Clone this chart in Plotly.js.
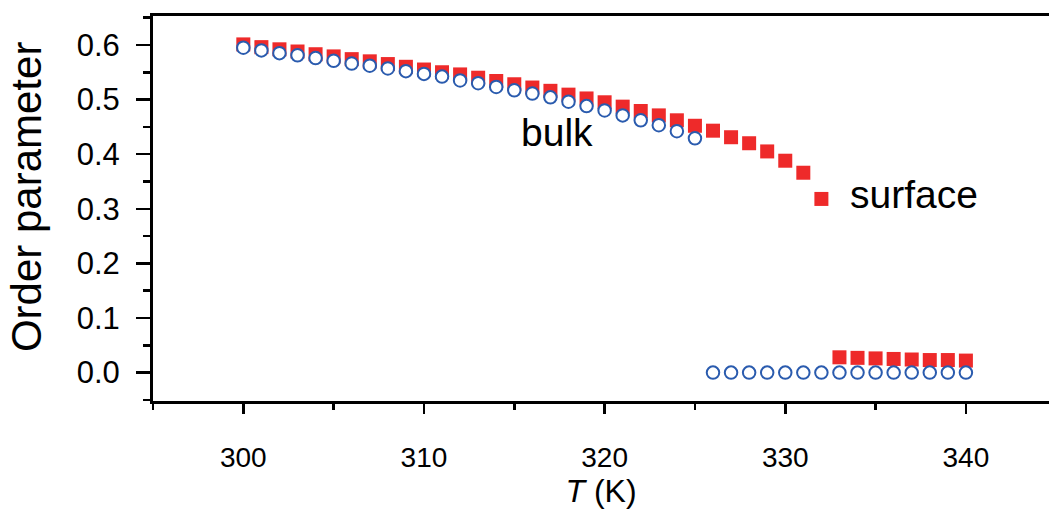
<!DOCTYPE html>
<html>
<head>
<meta charset="utf-8">
<script src="https://cdn.plot.ly/plotly-3.0.1.min.js"></script>
<style>html,body{margin:0;padding:0;background:#fff;}#chart{width:1049px;height:509px;}</style>
</head>
<body>
<div id="chart"></div>
<script>
// Temperature (K)
const temperature = [300,301,302,303,304,305,306,307,308,309,310,311,312,313,314,315,316,317,318,319,320,
  321,322,323,324,325,326,327,328,329,330,331,332,333,334,335,336,337,338,339,340];
// Surface order parameter (filled red squares)
const surfaceOrder = [0.601,0.596,0.592,0.588,0.583,0.579,0.574,0.570,0.565,0.560,0.555,0.550,0.546,0.540,
  0.534,0.528,0.522,0.516,0.509,0.502,0.495,0.487,0.479,0.471,0.462,0.452,0.443,0.431,0.420,0.405,0.388,
  0.366,0.318,0.028,0.027,0.026,0.025,0.024,0.023,0.023,0.022];
// Bulk order parameter (open blue circles)
const bulkOrder = [0.595,0.590,0.585,0.581,0.576,0.571,0.566,0.562,0.557,0.552,0.547,0.542,0.535,0.530,
  0.523,0.517,0.511,0.504,0.496,0.488,0.480,0.471,0.462,0.453,0.442,0.429,0,0,0,0,0,0,0,0,0,0,0,0,0,0,0];
const xTickValues = [300,310,320,330,340];
const yTickValues = [0.0,0.1,0.2,0.3,0.4,0.5,0.6];

const font = 'Liberation Sans, Arial, Helvetica, sans-serif';

const traces = [
  {x: temperature, y: surfaceOrder, type: 'scatter', mode: 'markers', name: 'surface',
   marker: {symbol: 'square', size: 14, color: '#EE2A2A', line: {width: 0}}},
  {x: temperature, y: bulkOrder, type: 'scatter', mode: 'markers', name: 'bulk',
   marker: {symbol: 'circle', size: 12.5, color: '#ffffff', line: {width: 2, color: '#2A5BAE'}}}
];

const layout = {
  width: 1049, height: 509,
  margin: {l: 153, r: 0, t: 16, b: 108},
  paper_bgcolor: '#fff', plot_bgcolor: '#fff',
  showlegend: false,
  font: {family: font, color: '#000', size: 30},
  xaxis: {
    range: [295, 344.6], tickvals: xTickValues, ticktext: xTickValues.map(String),
    ticks: 'outside', ticklen: 10, tickwidth: 2.5, tickcolor: '#000',
    minor: {dtick: 5, tick0: 295, ticks: 'outside', ticklen: 6, tickwidth: 2.5, tickcolor: '#000'},
    showline: true, linewidth: 3, linecolor: '#000', mirror: true,
    showgrid: false, zeroline: false,
    tickfont: {size: 28, family: font}, ticklabelstandoff: 19,
    title: {text: '<i>T</i> (K)', font: {size: 32, family: font}, standoff: 10}
  },
  yaxis: {
    range: [-0.052, 0.653], tickvals: yTickValues, ticktext: yTickValues.map(v => v.toFixed(1)),
    ticks: 'outside', ticklen: 14, tickwidth: 2.5, tickcolor: '#000',
    minor: {dtick: 0.05, tick0: 0, ticks: 'outside', ticklen: 7, tickwidth: 2.5, tickcolor: '#000'},
    showline: true, linewidth: 3, linecolor: '#000',
    showgrid: false, zeroline: false,
    tickfont: {size: 31, family: font}, ticklabelstandoff: 10,
    title: {text: '&nbsp;&nbsp;Order parameter', font: {size: 42, family: font}, standoff: 22}
  },
  annotations: [
    {x: 317.35, y: 0.439, xref: 'x', yref: 'y', text: 'bulk', showarrow: false,
     font: {size: 39, family: font, color: '#000'}},
    {x: 337.15, y: 0.327, xref: 'x', yref: 'y', text: 'surface', showarrow: false,
     font: {size: 39, family: font, color: '#000'}}
  ]
};

Plotly.newPlot('chart', traces, layout, {displayModeBar: false, staticPlot: true});
</script>
</body>
</html>
